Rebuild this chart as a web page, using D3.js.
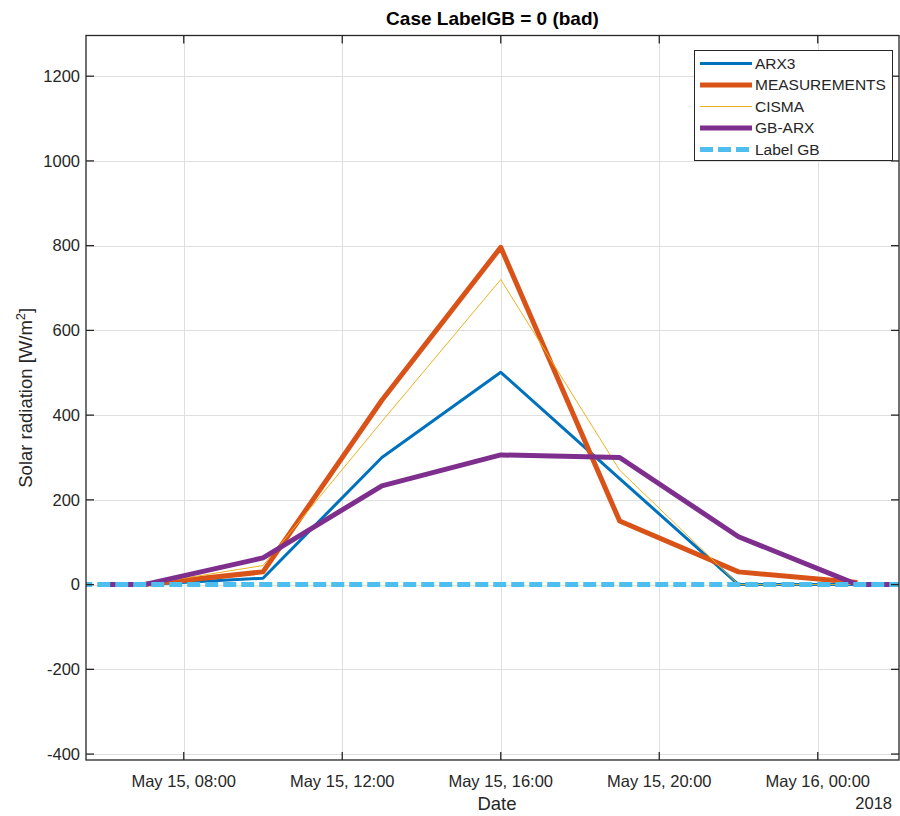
<!DOCTYPE html>
<html>
<head>
<meta charset="utf-8">
<script src="https://cdn.jsdelivr.net/npm/d3@7"></script>
<style>
  html, body { margin: 0; padding: 0; background: #fff; }
  svg { display: block; font-family: "Liberation Sans", Arial, Helvetica, sans-serif; }
</style>
</head>
<body>
<svg id="chart" width="900" height="816"></svg>
<script>
// Three-hourly solar radiation estimates vs. measurements, 15–16 May 2018
const times = ["2018-05-15T07:00", "2018-05-15T10:00", "2018-05-15T13:00", "2018-05-15T16:00",
               "2018-05-15T19:00", "2018-05-15T22:00", "2018-05-16T01:00"];
const arx3 = [0, 15, 300, 501, 250, 0, 0];
const measurements = [0, 30, 435, 796, 150, 30, 5];
const cisma = [0, 45, 385, 720, 270, 0, 0];

const gbTimes = ["2018-05-15T06:00", "2018-05-15T07:00", "2018-05-15T10:00", "2018-05-15T13:00",
                 "2018-05-15T16:00", "2018-05-15T19:00", "2018-05-15T22:00", "2018-05-16T01:00",
                 "2018-05-16T02:00"];
const gbArx = [0, 0, 63, 233, 306, 300, 113, 0, 0];

const labelTimes = ["2018-05-15T04:00", "2018-05-15T10:00", "2018-05-15T16:00",
                    "2018-05-15T22:00", "2018-05-16T04:00"];
const labelGB = [0, 0, 0, 0, 0];

const yTicks = [-400, -200, 0, 200, 400, 600, 800, 1000, 1200];
const seriesNames = ["ARX3", "MEASUREMENTS", "CISMA", "GB-ARX", "Label GB"];

const parse = d3.timeParse("%Y-%m-%dT%H:%M");
const svg = d3.select("#chart");

const plotL = 86, plotR = 899, plotT = 35.5, plotB = 760;

const x = d3.scaleTime()
  .domain([parse("2018-05-15T05:32"), parse("2018-05-16T02:03")])
  .range([plotL, plotR]);
const y = d3.scaleLinear().domain([-414, 1296]).range([plotB, plotT]);

const tickColor = "#262626";
const xTicks = x.ticks(d3.timeHour.every(4));

// grid
const grid = svg.append("g").attr("stroke", "#dfdfdf").attr("stroke-width", 1);
yTicks.forEach(v => grid.append("line")
  .attr("x1", plotL).attr("x2", plotR).attr("y1", Math.round(y(v)) + 0.5).attr("y2", Math.round(y(v)) + 0.5));
xTicks.forEach(t => grid.append("line")
  .attr("y1", plotT).attr("y2", plotB).attr("x1", Math.round(x(t)) + 0.5).attr("x2", Math.round(x(t)) + 0.5));

// series
svg.append("clipPath").attr("id", "plotclip").append("rect")
  .attr("x", plotL).attr("y", plotT).attr("width", plotR - plotL).attr("height", plotB - plotT);
const plot = svg.append("g").attr("clip-path", "url(#plotclip)");

const line = d3.line().x(d => x(d[0])).y(d => y(d[1]));
const zipT = (ts, vs) => ts.map((t, i) => [parse(t), vs[i]]);

const styles = [
  { name: seriesNames[0], data: zipT(times, arx3), color: "#0072BD", width: 3 },
  { name: seriesNames[1], data: zipT(times, measurements), color: "#D95319", width: 5 },
  { name: seriesNames[2], data: zipT(times, cisma), color: "#EDB120", width: 1 },
  { name: seriesNames[3], data: zipT(gbTimes, gbArx), color: "#7E2F8E", width: 5 },
  { name: seriesNames[4], data: zipT(labelTimes, labelGB), color: "#4DBEEE", width: 5, dash: "13,5" }
];

styles.forEach(s => {
  plot.append("path")
    .attr("d", line(s.data))
    .attr("fill", "none")
    .attr("stroke", s.color)
    .attr("stroke-width", s.width)
    .attr("stroke-linejoin", "round")
    .attr("stroke-dasharray", s.dash || null);
});

// axes box with inward ticks on all sides
const axes = svg.append("g").attr("stroke", tickColor).attr("stroke-width", 1.3).attr("fill", "none");
axes.append("rect").attr("x", plotL).attr("y", plotT).attr("width", plotR - plotL).attr("height", plotB - plotT);
const tl = 8;
yTicks.forEach(v => {
  const yy = y(v);
  axes.append("line").attr("x1", plotL).attr("x2", plotL + tl).attr("y1", yy).attr("y2", yy);
  axes.append("line").attr("x1", plotR).attr("x2", plotR - tl).attr("y1", yy).attr("y2", yy);
});
xTicks.forEach(t => {
  const xx = x(t);
  axes.append("line").attr("x1", xx).attr("x2", xx).attr("y1", plotB).attr("y2", plotB - tl);
  axes.append("line").attr("x1", xx).attr("x2", xx).attr("y1", plotT).attr("y2", plotT + tl);
});

// tick labels
const labels = svg.append("g").attr("fill", tickColor).attr("font-size", 16.5);
yTicks.forEach(v => labels.append("text")
  .attr("x", plotL - 6).attr("y", y(v)).attr("dy", "0.35em")
  .attr("text-anchor", "end").text(v));
const fmt = d3.timeFormat("%b %d, %H:%M");
xTicks.forEach(t => labels.append("text")
  .attr("x", x(t)).attr("y", 787).attr("text-anchor", "middle").text(fmt(t)));
labels.append("text").attr("x", 892).attr("y", 809).attr("text-anchor", "end").text("2018");

// axis titles
svg.append("text").attr("x", 497).attr("y", 810)
  .attr("text-anchor", "middle").attr("font-size", 18.5).attr("fill", tickColor).text("Date");

const yl = svg.append("text")
  .attr("transform", `translate(32,${(plotT + plotB) / 2}) rotate(-90)`)
  .attr("text-anchor", "middle").attr("font-size", 18.5).attr("fill", tickColor);
yl.append("tspan").text("Solar radiation [W/m");
yl.append("tspan").attr("dy", -7).attr("font-size", 13).text("2");
yl.append("tspan").attr("dy", 7).text("]");

svg.append("text").attr("x", (plotL + plotR) / 2).attr("y", 25)
  .attr("text-anchor", "middle").attr("font-size", 19).attr("font-weight", "bold")
  .attr("fill", "#000").text("Case LabelGB = 0 (bad)");

// legend
const lg = svg.append("g");
lg.append("rect").attr("x", 694.5).attr("y", 50.5).attr("width", 198).attr("height", 110)
  .attr("fill", "#fff").attr("stroke", tickColor).attr("stroke-width", 1);
styles.forEach((s, i) => {
  const yy = 63.5 + i * 21.5;
  lg.append("line").attr("x1", 700).attr("x2", 752).attr("y1", yy).attr("y2", yy)
    .attr("stroke", s.color).attr("stroke-width", s.width)
    .attr("stroke-dasharray", s.dash || null);
  lg.append("text").attr("x", 755).attr("y", yy).attr("dy", "0.35em")
    .attr("font-size", 15.5).attr("fill", tickColor).text(s.name);
});
</script>
</body>
</html>
